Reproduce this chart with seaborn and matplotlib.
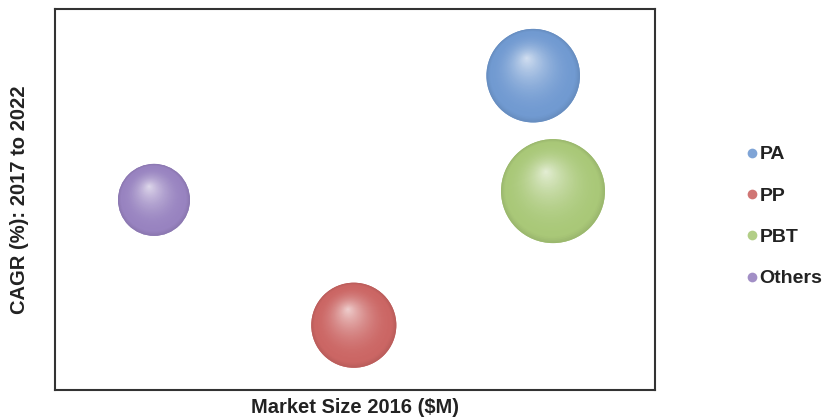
import numpy as np
import pandas as pd
import matplotlib
matplotlib.use("Agg")
import matplotlib.pyplot as plt
import matplotlib.colors as mcolors
from matplotlib.transforms import offset_copy
from matplotlib.lines import Line2D
import seaborn as sns

# Segment data (relative units; the axes carry no tick values)
segments = ["PA", "PP", "PBT", "Others"]
market_size = [79.7, 49.8, 83.0, 16.5]      # x: Market Size 2016 ($M)
cagr = [82.5, 17.0, 52.2, 49.9]             # y: CAGR (%) 2017 to 2022
bubble = [81, 67, 100, 48]                   # bubble area (relative)
colors = ["#719ad1", "#cb6664", "#a9c878", "#9883c0"]

df = pd.DataFrame({"Segment": segments, "x": market_size, "y": cagr, "bubble": bubble})

sns.set_theme(style="white")
plt.rcParams["font.family"] = ["Liberation Sans", "DejaVu Sans"]

fig = plt.figure(figsize=(8.32, 4.2), dpi=100)
ax = fig.add_axes([55 / 832, 30 / 420, 600 / 832, 381 / 420])

S_MAX = 5600.0
palette = dict(zip(segments, colors))
sns.scatterplot(data=df, x="x", y="y", hue="Segment", palette=palette,
                size="bubble", sizes=(0, S_MAX), size_norm=(0, 100),
                edgecolor="none", linewidth=0, legend=False, ax=ax, zorder=2)

ax.set_xlim(0, 100)
ax.set_ylim(0, 100)


def shade(c, f):
    """Blend colour c towards black (f<0) or white (f>0)."""
    rgb = np.array(mcolors.to_rgb(c))
    if f < 0:
        return tuple(rgb * (1 + f))
    return tuple(rgb + (1 - rgb) * f)


# Sphere shading: stacked circles shrinking towards a highlight point
n_layers = 45
for seg, xv, yv, bv, col in zip(segments, market_size, cagr, bubble, colors):
    s0 = S_MAX * bv / 100.0
    r_pt = np.sqrt(s0) / 2.0
    hx, hy = -0.14 * r_pt, 0.38 * r_pt
    for k in range(n_layers):
        t = k / n_layers
        rad = r_pt * (1 - t)
        if t < 0.08:
            f = -0.08 * (1 - t / 0.08)
        else:
            u = (t - 0.08) / 0.92
            f = 0.70 * u ** 1.9
        tr = offset_copy(ax.transData, fig=fig, x=hx * t, y=hy * t, units="points")
        ax.scatter([xv], [yv], s=(2 * rad) ** 2, color=shade(col, f),
                   edgecolors="none", transform=tr, zorder=3 + k * 0.001)

ax.set_xticks([])
ax.set_yticks([])
for sp in ax.spines.values():
    sp.set_visible(True)
    sp.set_color("#333333")
    sp.set_linewidth(1.5)

ax.set_xlabel("Market Size 2016 ($M)", fontsize=14.5, fontweight="bold",
              color="#222222", labelpad=6)
ax.set_ylabel("CAGR (%): 2017 to 2022", fontsize=14.5, fontweight="bold",
              color="#222222", labelpad=19)

handles = [Line2D([], [], linestyle="none", marker="o", markersize=7,
                  markerfacecolor=shade(c, 0.1), markeredgecolor="none")
           for c in colors]
leg = fig.legend(handles, segments, loc="upper left",
                 bbox_to_anchor=(738 / 832, 1 - 138 / 420),
                 frameon=False, handlelength=0.6, handletextpad=0.1,
                 labelspacing=1.22, borderaxespad=0,
                 prop={"size": 14, "weight": "bold"})
for txt in leg.get_texts():
    txt.set_color("#222222")

fig.savefig("out.png", dpi=100, facecolor="white")
